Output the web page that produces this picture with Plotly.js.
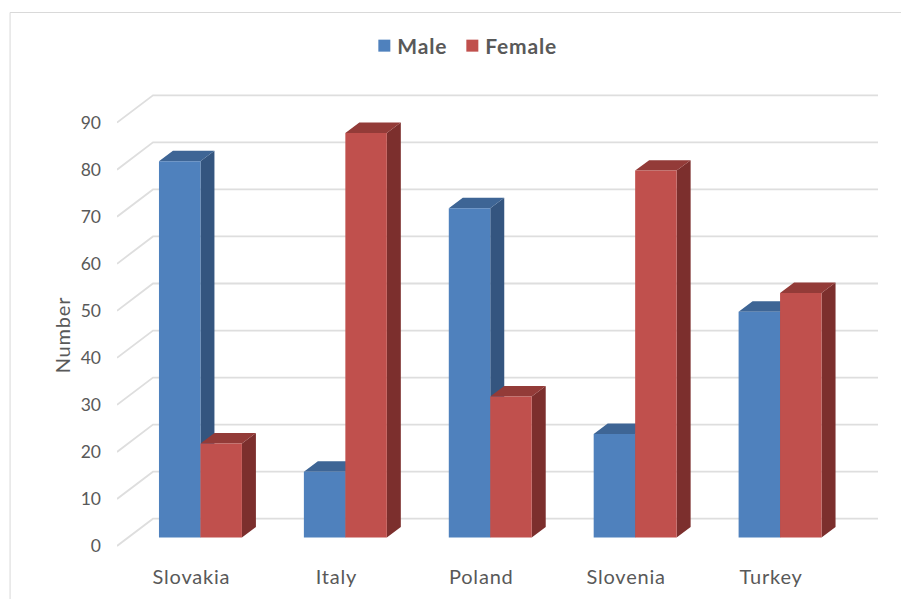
<!DOCTYPE html>
<html>
<head>
<meta charset="utf-8">
<script src="https://cdn.plot.ly/plotly-3.0.1.min.js"></script>
<style>
html,body{margin:0;padding:0;background:#fff}#chart{width:901px;height:599px}
.xtick text,.g-ytitle text{letter-spacing:.8px}
.legendtext{letter-spacing:.8px}
.legend .scrollbox{clip-path:none !important}
</style>
</head>
<body>
<div id="chart"></div>
<script>
// ---- data ----
const categories = ['Slovakia', 'Italy', 'Poland', 'Slovenia', 'Turkey'];
const maleValues = [80, 14, 70, 22, 48];
const femaleValues = [20, 86, 30, 78, 52];
const valueTicks = [0, 10, 20, 30, 40, 50, 60, 70, 80, 90];

// ---- geometry (screen scale and oblique depth of the fake 3-D view) ----
const W = 901, H = 599;
const plot = {l: 116.5, r: 890, t: 90, b: 580};
const pxPerUnit = 4.704, pxPerGroup = 145;
const zeroPx = 546, firstLabelPx = 191;
const yRange = [-(plot.b - zeroPx) / pxPerUnit, (zeroPx - plot.t) / pxPerUnit];
const xRange = [(plot.l - firstLabelPx) / pxPerGroup, (plot.r - firstLabelPx) / pxPerGroup];
const barLift = 8.5 / pxPerUnit;          // bar front plane above axis plane
const barDY = 10.4 / pxPerUnit, barDX = 14 / pxPerGroup;   // bar depth
const wallDY = 27.3 / pxPerUnit, wallDX = 36 / pxPerGroup; // wall depth
const barW = 41.5 / pxPerGroup, groupShift = 9 / pxPerGroup;
const wallRight = (878 - firstLabelPx) / pxPerGroup;

const idx = categories.map((_, i) => i);

// grid lines: from the front-left edge, back along the side wall, across the back wall
const gx = [], gy = [];
valueTicks.forEach(v => {
  gx.push(xRange[0], xRange[0] + wallDX, wallRight, null);
  gy.push(v, v + wallDY, v + wallDY, null);
});

function face(points) {
  const xs = [], ys = [];
  points.forEach(p => { p.forEach(q => { xs.push(q[0]); ys.push(q[1]); }); xs.push(null); ys.push(null); });
  return {xs, ys};
}
function sideFace(values, leftW) {
  return face(values.map((v, i) => {
    const x = i + groupShift + leftW;
    return [[x, barLift], [x + barDX, barLift + barDY], [x + barDX, barLift + barDY + v], [x, barLift + v], [x, barLift]];
  }));
}
function topFace(values, leftW) {
  return face(values.map((v, i) => {
    const x1 = i + groupShift + leftW, x0 = x1 - barW, y = barLift + v;
    return [[x0, y], [x1, y], [x1 + barDX, y + barDY], [x0 + barDX, y + barDY], [x0, y]];
  }));
}
function poly(f, color) {
  return {type: 'scatter', mode: 'lines', x: f.xs, y: f.ys, fill: 'toself', fillcolor: color,
    line: {width: 0, color: color}, hoverinfo: 'skip', showlegend: false, connectgaps: false};
}

const traces = [
  {type: 'scatter', mode: 'lines', x: gx, y: gy, line: {color: '#dedede', width: 1.8},
   hoverinfo: 'skip', showlegend: false},
  poly(sideFace(maleValues, 0), '#34557f'),
  poly(topFace(maleValues, 0), '#3e6595'),
  poly(sideFace(femaleValues, barW), '#7c2f2d'),
  poly(topFace(femaleValues, barW), '#933b38'),
  {type: 'bar', name: 'Male', x: idx, y: maleValues, xaxis: 'x2', yaxis: 'y2',
   width: barW, offset: groupShift - barW, marker: {color: '#4f81bd', line: {width: 0}}},
  {type: 'bar', name: 'Female', x: idx, y: femaleValues, xaxis: 'x2', yaxis: 'y2',
   width: barW, offset: groupShift, marker: {color: '#c0504d', line: {width: 0}}}
];

const pw = plot.r - plot.l, ph = plot.b - plot.t;
const textFont = {family: 'Lato, sans-serif', size: 20, color: '#595959'};
const tickFont = {family: 'Lato, sans-serif', size: 17.5, color: '#595959'};
const layout = {
  width: W, height: H, paper_bgcolor: '#fff', plot_bgcolor: 'rgba(0,0,0,0)',
  margin: {l: plot.l, r: W - plot.r, t: plot.t, b: H - plot.b, pad: 0, autoexpand: false},
  barmode: 'overlay', font: textFont,
  xaxis: {range: xRange, tickmode: 'array', tickvals: idx, ticktext: categories,
    anchor: 'free', position: (plot.b - zeroPx) / ph, showgrid: false, zeroline: false,
    showline: false, ticks: '', ticklabelstandoff: 17, tickfont: textFont, fixedrange: true},
  yaxis: {range: yRange, tickmode: 'array', tickvals: valueTicks, showgrid: false, zeroline: false,
    showline: false, ticks: '', ticklabelstandoff: 15, ticklabelshift: -2.5, tickfont: tickFont, fixedrange: true,
    title: {text: 'Number', font: textFont, standoff: 4}},
  xaxis2: {range: xRange, overlaying: 'x', visible: false, fixedrange: true},
  yaxis2: {range: [yRange[0] - barLift, yRange[1] - barLift], overlaying: 'y', visible: false, fixedrange: true},
  showlegend: true,
  legend: {orientation: 'h', xref: 'paper', yref: 'paper', x: (364 - plot.l) / pw, xanchor: 'left',
    y: (plot.b - 46) / ph, yanchor: 'middle', bgcolor: 'rgba(0,0,0,0)', entrywidth: 43, entrywidthmode: 'pixels',
    font: {family: 'Lato, sans-serif', size: 21, color: '#595959', weight: 700}, itemclick: false, itemdoubleclick: false},
  shapes: [
    {type: 'line', xref: 'paper', yref: 'paper', x0: (9.5 - plot.l) / pw, x1: (901 - plot.l) / pw,
     y0: (plot.b - 12.5) / ph, y1: (plot.b - 12.5) / ph, line: {color: '#d9d9d9', width: 1}},
    {type: 'line', xref: 'paper', yref: 'paper', x0: (9.5 - plot.l) / pw, x1: (9.5 - plot.l) / pw,
     y0: (plot.b - 12.5) / ph, y1: (plot.b - 599) / ph, line: {color: '#d9d9d9', width: 1}}
  ]
};
Plotly.newPlot('chart', traces, layout, {displayModeBar: false}).then(() => {
  document.querySelectorAll('.legendtext').forEach(t => t.setAttribute('x', 33));
});
</script>
</body>
</html>
